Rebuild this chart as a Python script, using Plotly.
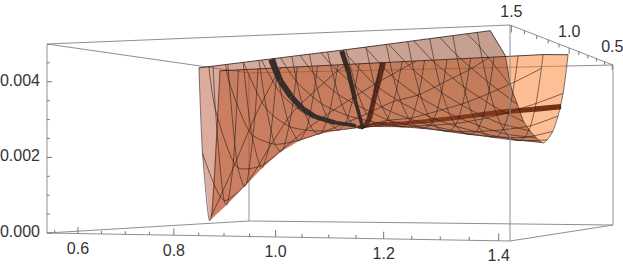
import numpy as np
import plotly.graph_objects as go

# ---- data ----
X_ST = [0.5498,0.6031,0.6575,0.7108,0.7651,0.8185,0.8718,0.9261,0.9795,1.0328,1.0871,1.1405,1.1948,1.2481,1.3015,1.3558,1.4091]
Y_LV = [0.76,0.81,0.86,0.91,0.96,1.01,1.06,1.11,1.16,1.21,1.26,1.31,1.36,1.41,1.46]
N = None
Z_TAB = [
 [.00023,.00223,N,N,N,N,N,N,N,N,N,N,N,N,N],
 [.00174,.00075,.00357,N,N,N,N,N,N,N,N,N,N,N,N],
 [.00338,.00128,.00177,.00437,N,N,N,N,N,N,N,N,N,N,N],
 [.0047,.00237,.00182,.00277,N,N,N,N,N,N,N,N,N,N,N],
 [N,.00343,.00235,.00247,.0035,N,N,N,N,N,N,N,N,N,N],
 [N,.0041,.00292,.00258,.00297,.00389,N,N,N,N,N,N,N,N,N],
 [N,.0047,.00341,.0028,.00284,.00331,.0042,N,N,N,N,N,N,N,N],
 [N,N,.00386,.00308,.00285,.00304,.00356,.0044,N,N,N,N,N,N,N],
 [N,N,.00428,.00338,.00295,.00294,.00323,.00378,.0046,N,N,N,N,N,N],
 [N,N,.00466,.00369,.00311,.00292,.00304,.00338,.00395,.00475,N,N,N,N,N],
 [N,N,N,.00387,.00318,.00291,.0029,.00303,.00337,.00396,.00486,N,N,N,N],
 [N,N,N,.00421,.00336,.00294,.00283,.00287,.00306,.00346,.00409,N,N,N,N],
 [N,N,N,.00456,.00356,.00298,.00275,.00274,.00283,.00308,.00353,.00421,N,N,N],
 [N,N,N,N,.00383,.0031,.00273,.00263,.00266,.00281,.00312,.00362,.00434,N,N],
 [N,N,N,N,.00414,.00327,.00277,.00256,.00254,.00261,.00281,.00317,.00372,.00446,N],
 [N,N,N,N,.0045,.0035,.00287,.00254,.00244,.00246,.00257,.00282,.00322,.0038,.00457],
 [N,N,N,N,N,.00376,.00312,.00269,.00245,.00237,.00248,.00263,.00283,.00322,.00362],
]
VAL_Y = [.770,.796,.823,.849,.876,.903,.929,.956,.982,1.009,1.036,1.062,1.088,1.114,1.141,1.168,1.194]
VAL_Z = [.0001,.00061,.00119,.00176,.00225,.00257,.00275,.00285,.0029,.00292,.00289,.00283,.00273,.00263,.00254,.00244,.00236]
RIM_FAR_Y = [.71,.726,.741,.757,.773,.788,.804,.819,.835,.85,.866,.882,.897,.913,.928,.944,.96]
RIM_NEAR_Y = [.83,.873,.917,.959,1.003,1.046,1.089,1.133,1.175,1.218,1.262,1.305,1.348,1.391,1.434,1.478,1.5]
RIM_FAR_Z = [.0049]*16 + [.00486]
RIM_NEAR_Z = [.0049]*16 + [.0043]
RIM_CORNER = (1.3834, 1.5, .0049)

C1_X = [.8036,.8234,.8481,.8718,.9004,.9449,.9893]
C1_Y = [1.03,1.03,1.03,1.03,1.03,1.03,1.03]
C1_Z = [.0049,.00427,.0038,.00347,.00322,.00304,.00294]
C2_X = [.9943,1.0012,1.0071,1.014]
C2_Y = [1.0,1.07,1.13,1.19]
C2_Z = [.0029,.00365,.0044,.0049]
C3_X = [.9893,.9893,.9893,.9893,.9893]
C3_Y = [1.0,.965,.94,.90,.845]
C3_Z = [.0029,.00297,.00318,.00395,.0049]
C4_X = [.9943,1.0328,1.0871,1.1405,1.1948,1.2481,1.3015,1.3558,1.4091]
C4_Y = [1.03]*9
C4_Z = [.0029,.00298,.00299,.00305,.00312,.0032,.00328,.00333,.00339]

X_MAJOR = [0.6,0.8,1.0,1.2,1.4]
X_MINOR = [0.55,0.65,0.7,0.75,0.85,0.9,0.95,1.05,1.1,1.15,1.25,1.3,1.35]
Y_MAJOR = [1.5,1.0,0.5]
Y_MINOR = [1.4,1.3,1.2,1.1,0.9,0.8,0.7,0.6]
Z_MAJOR = [0.0,0.002,0.004]
Z_MINOR = [0.0005,0.001,0.0015,0.0025,0.003,0.0035,0.0045]

# ---- view of the box (the chart's own 3-D scale) ----
XMIN, XMAX, YMIN, YMAX, ZMAX = 0.533, 1.419, 0.49, 1.51, 0.005
COL_X = np.array([47., 510., 613., 249.])
COL_BOT = np.array([233., 241., 225., 221.])
COL_TOP = np.array([44., 25., 65., 73.])
COL_W = 1.0 / (COL_BOT - COL_TOP)

def project(x, y, z):
    x, y, z = np.asarray(x, float), np.asarray(y, float), np.asarray(z, float)
    a = (x - XMIN) / (XMAX - XMIN)
    b = (YMAX - y) / (YMAX - YMIN)
    c = z / ZMAX
    w = np.stack([(1-a)*(1-b)*COL_W[0], a*(1-b)*COL_W[1], a*b*COL_W[2], (1-a)*b*COL_W[3]])
    s = w.sum(axis=0)
    px = (w.T @ COL_X) / s
    bot = (w.T @ COL_BOT) / s
    top = (w.T @ COL_TOP) / s
    return px, bot + (top - bot) * c

fig = go.Figure()

def add_lines(segs, color, width, shape="linear"):
    xs, ys = [], []
    for (sx, sy, sz) in segs:
        px, py = project(sx, sy, sz)
        xs += list(px) + [None]
        ys += list(py) + [None]
    line = dict(color=color, width=width, shape=shape)
    if shape == "spline":
        line["smoothing"] = 0.7
    fig.add_trace(go.Scatter(x=xs, y=ys, mode="lines", line=line, hoverinfo="skip", showlegend=False))

def add_poly(sx, sy, sz, color):
    px, py = project(sx, sy, sz)
    fig.add_trace(go.Scatter(x=list(px), y=list(py), mode="lines", fill="toself", fillcolor=color,
                             line=dict(width=0), hoverinfo="skip", showlegend=False))

def edge(p, q):
    return ([p[0], q[0]], [p[1], q[1]], [p[2], q[2]])

BOX = "#8f8f8f"
A0, B0, C0, D0 = (XMIN,YMAX,0), (XMAX,YMAX,0), (XMAX,YMIN,0), (XMIN,YMIN,0)
A1, B1, C1, D1 = (XMIN,YMAX,ZMAX), (XMAX,YMAX,ZMAX), (XMAX,YMIN,ZMAX), (XMIN,YMIN,ZMAX)
add_lines([edge(D0,D1), edge(A0,D0), edge(D0,C0), edge(A1,D1), edge(D1,C1)], BOX, 1)

def sections(i):
    lv = [(Y_LV[j], Z_TAB[i][j]) for j in range(len(Y_LV)) if Z_TAB[i][j] is not None]
    far = [(RIM_FAR_Y[i], RIM_FAR_Z[i])] + [p for p in lv if p[0] < VAL_Y[i]] + [(VAL_Y[i], VAL_Z[i])]
    near = [(VAL_Y[i], VAL_Z[i])] + [p for p in lv if p[0] > VAL_Y[i]] + [(RIM_NEAR_Y[i], RIM_NEAR_Z[i])]
    return far, near

n = len(X_ST)
def mix(c0, c1, t):
    return tuple(c0[k] + (c1[k]-c0[k])*t for k in range(3))
# far sheet
for i in range(n-1):
    f0, _ = sections(i); f1, _ = sections(i+1)
    sx = [X_ST[i]]*len(f0) + [X_ST[i+1]]*len(f1)
    sy = [p[0] for p in f0] + [p[0] for p in f1[::-1]]
    sz = [p[1] for p in f0] + [p[1] for p in f1[::-1]]
    t = i/(n-2)
    add_poly(sx, sy, sz, "rgba(%d,%d,%d,0.5)" % mix((195,75,15), (255,127,45), t))

# curves on the far sheet
def thick(cx, cy, cz, widths, color):
    px, py = project(cx, cy, cz)
    for k in range(len(px)-1):
        fig.add_trace(go.Scatter(x=[px[k],px[k+1]], y=[py[k],py[k+1]], mode="lines",
                                 line=dict(color=color, width=widths[k]), hoverinfo="skip", showlegend=False))

thick(C4_X, C4_Y, C4_Z, [3.5,4,4,4.5,4.5,5,5,5.5], "rgba(105,35,8,0.92)")
thick(C3_X, C3_Y, C3_Z, [4,4.5,5,5.5], "rgba(30,14,12,0.98)")

# near sheet
for i in range(n-1):
    _, n0 = sections(i); _, n1 = sections(i+1)
    sx = [X_ST[i]]*len(n0); sy = [p[0] for p in n0]; sz = [p[1] for p in n0]
    if i == n-2:
        sx = sx + [RIM_CORNER[0]]; sy = sy + [RIM_CORNER[1]]; sz = sz + [RIM_CORNER[2]]
    sx = sx + [X_ST[i+1]]*len(n1)
    sy = sy + [p[0] for p in n1[::-1]]
    sz = sz + [p[1] for p in n1[::-1]]
    t = i/(n-2)
    add_poly(sx, sy, sz, "rgba(%d,%d,%d,0.5)" % mix((185,90,60), (137,62,32), t))

# mesh
MESH = "rgba(45,30,28,0.68)"
segs = []
for i in range(n):
    f, m = sections(i)
    pts = f + m[1:]
    segs.append(([X_ST[i]]*len(pts), [p[0] for p in pts], [p[1] for p in pts]))
add_lines(segs, MESH, 0.9, "spline")
segs = []
for j, L in enumerate(Y_LV):
    pts = [(X_ST[i], L, Z_TAB[i][j]) for i in range(n) if Z_TAB[i][j] is not None]
    if RIM_NEAR_Y[0] < L < RIM_NEAR_Y[-1]:
        pts.append((float(np.interp(L, RIM_NEAR_Y, X_ST)), L, .0049))
    if RIM_FAR_Y[0] < L < RIM_FAR_Y[-1]:
        pts.append((float(np.interp(L, RIM_FAR_Y, X_ST)), L, .0049))
    pts.sort()
    segs.append(([p[0] for p in pts], [p[1] for p in pts], [p[2] for p in pts]))
add_lines(segs, MESH, 0.9, "spline")

# rims
add_lines([(X_ST, RIM_FAR_Y, RIM_FAR_Z),
           (X_ST[:-1] + [RIM_CORNER[0], X_ST[-1]], RIM_NEAR_Y[:-1] + [RIM_CORNER[1], RIM_NEAR_Y[-1]],
            RIM_NEAR_Z[:-1] + [RIM_CORNER[2], RIM_NEAR_Z[-1]])], "rgba(50,35,30,0.85)", 1)

thick(C1_X, C1_Y, C1_Z, [6.5,6,5.5,5,4.5,3.5], "rgba(50,42,42,0.97)")
thick(C2_X, C2_Y, C2_Z, [3.5,4.5,5], "rgba(55,38,34,0.97)")

add_lines([edge(A0,A1), edge(B0,B1), edge(C0,C1), edge(A0,B0), edge(B0,C0), edge(A1,B1), edge(B1,C1)], BOX, 1)

# ticks
TICK = "#757575"
segs = []
for v in X_MAJOR: segs.append(([v,v],[YMAX,YMAX],[0,.00017]))
for v in X_MINOR: segs.append(([v,v],[YMAX,YMAX],[0,.00008]))
for v in Y_MAJOR: segs.append(([XMAX,XMAX],[v,v],[ZMAX,ZMAX-.00016]))
for v in Y_MINOR: segs.append(([XMAX,XMAX],[v,v],[ZMAX,ZMAX-.00009]))
for v in Z_MAJOR: segs.append(([XMIN,XMIN+.011],[YMAX,YMAX],[v,v]))
for v in Z_MINOR: segs.append(([XMIN,XMIN+.006],[YMAX,YMAX],[v,v]))
add_lines(segs, TICK, 1)

# labels
FONT = dict(family="Liberation Sans, Arial, sans-serif", size=16, color="#333333")
px, py = project(X_MAJOR, [YMAX]*5, [0]*5)
fig.add_trace(go.Scatter(x=list(px), y=list(py+16.5), mode="text", text=["%.1f" % v for v in X_MAJOR],
                         textposition="middle center", textfont=FONT, hoverinfo="skip", showlegend=False))
px, py = project([XMAX]*3, Y_MAJOR, [ZMAX]*3)
fig.add_trace(go.Scatter(x=list(px), y=list(py-np.array([12.5,15,17])), mode="text", text=["%.1f" % v for v in Y_MAJOR],
                         textposition="middle center", textfont=FONT, hoverinfo="skip", showlegend=False))
px, py = project([XMIN]*3, [YMAX]*3, Z_MAJOR)
fig.add_trace(go.Scatter(x=list(px-7), y=list(py), mode="text", text=["%.3f" % v for v in Z_MAJOR],
                         textposition="middle left", textfont=FONT, hoverinfo="skip", showlegend=False))

fig.update_layout(width=623, height=269, autosize=False, margin=dict(l=0,r=0,t=0,b=0),
                  paper_bgcolor="white", plot_bgcolor="white", showlegend=False,
                  xaxis=dict(range=[0,623], visible=False, fixedrange=True),
                  yaxis=dict(range=[269,0], visible=False, fixedrange=True))
fig.write_html("out.html", config=dict(displayModeBar=False),
               post_script="document.body.style.margin='0';document.documentElement.style.overflow='hidden';")
